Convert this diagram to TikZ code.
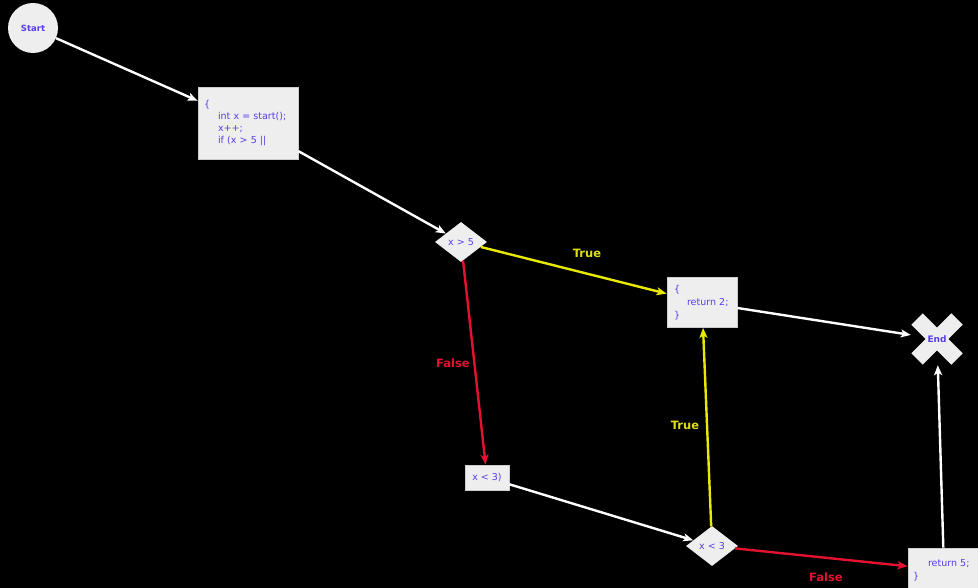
\documentclass[tikz,border=0pt]{standalone}
\usepackage{fontspec}
\setmainfont{DejaVu Sans}
\usetikzlibrary{shapes.geometric,arrows.meta,calc}
\definecolor{nodefill}{RGB}{238,238,238}
\definecolor{nodeedge}{RGB}{205,205,205}
\definecolor{txtblue}{RGB}{88,62,232}
\definecolor{edgeyellow}{RGB}{232,232,0}
\definecolor{labyellow}{RGB}{222,222,20}
\definecolor{edgered}{RGB}{228,18,48}
\begin{document}
\begin{tikzpicture}[x=1pt,y=-1pt,
  every node/.style={font=\fontsize{9.5}{12}\selectfont, text=txtblue},
  box/.style={rectangle, fill=nodefill, draw=nodeedge, line width=0.8pt, align=left, inner ysep=0pt},
  dia/.style={diamond, fill=nodefill, minimum width=52pt, minimum height=40pt, inner sep=0pt, aspect=1.3},
  flow/.style={draw=white, line width=2.4pt, -{Stealth[length=10pt,width=8pt,inset=2.5pt]}},
  yes/.style={flow, draw=edgeyellow},
  no/.style={flow, draw=edgered},
  lab/.style={font=\fontsize{11.5}{14}\selectfont\bfseries},
  crossarm/.style={draw=nodefill, line width=16pt, line cap=butt}
]
\fill[black] (0,0) rectangle (978,588);
\useasboundingbox (0,0) rectangle (978,588);
\clip (0,0) rectangle (978,588);

% nodes
\node[circle, fill=nodefill, minimum size=50pt, inner sep=0pt,
      font=\fontsize{8.5}{10}\selectfont\bfseries] (start) at (33,28) {Start};

\node[box, minimum width=100pt, minimum height=72pt, text width=88pt, inner xsep=6pt]
  (b1) at (248,123)
  {\{\\\hspace*{14pt}\mbox{int x = start();}\\\hspace*{14pt}x++;\\\hspace*{14pt}\mbox{if (x > 5 ||}};

\node[dia] (d1) at (461,242) {x > 5};

\node[box, minimum width=70pt, minimum height=50pt, text width=56pt, inner xsep=7pt,
      font=\fontsize{9.5}{13}\selectfont]
  (r2) at (702,302.5) {\{\\\hspace*{13pt}\mbox{return 2;}\\\}};

\node[box, minimum width=44pt, minimum height=25pt, inner xsep=0pt, align=center]
  (b3) at (487,477.5) {x < 3)};

\node[dia] (d2) at (712,546) {x < 3};

\node[box, minimum width=72pt, minimum height=44pt, text width=62pt, inner xsep=5pt,
      font=\fontsize{9.5}{13}\selectfont]
  (r5) at (944,570) {\hspace*{15pt}\mbox{return 5;}\\\}};

\coordinate (endc) at (937,339);
\draw[crossarm] ($(endc)+(-20,-20)$) -- ($(endc)+(20,20)$);
\draw[crossarm] ($(endc)+(-20,20)$) -- ($(endc)+(20,-20)$);
\node[minimum width=52pt, minimum height=52pt, inner sep=0pt,
      font=\fontsize{9}{10}\selectfont\bfseries] (end) at (endc) {End};

% connectors
\draw[flow] (start) -- (b1);
\draw[flow] (b1) -- (d1);
\draw[yes] (d1) -- (r2);
\draw[no] (d1) -- (b3);
\draw[flow] (r2) -- (end);
\draw[flow] (b3) -- (d2);
\draw[yes] (d2) -- (r2);
\draw[no] (d2) -- (r5);
\draw[flow] (r5) -- (end);

% labels
\node[lab, text=labyellow] (t1) at (587,253) {True};
\node[lab, text=edgered] (f1) at (453,363) {False};
\node[lab, text=labyellow] (t2) at (685,425) {True};
\node[lab, text=edgered] (f2) at (826,577) {False};
\end{tikzpicture}
\end{document}
